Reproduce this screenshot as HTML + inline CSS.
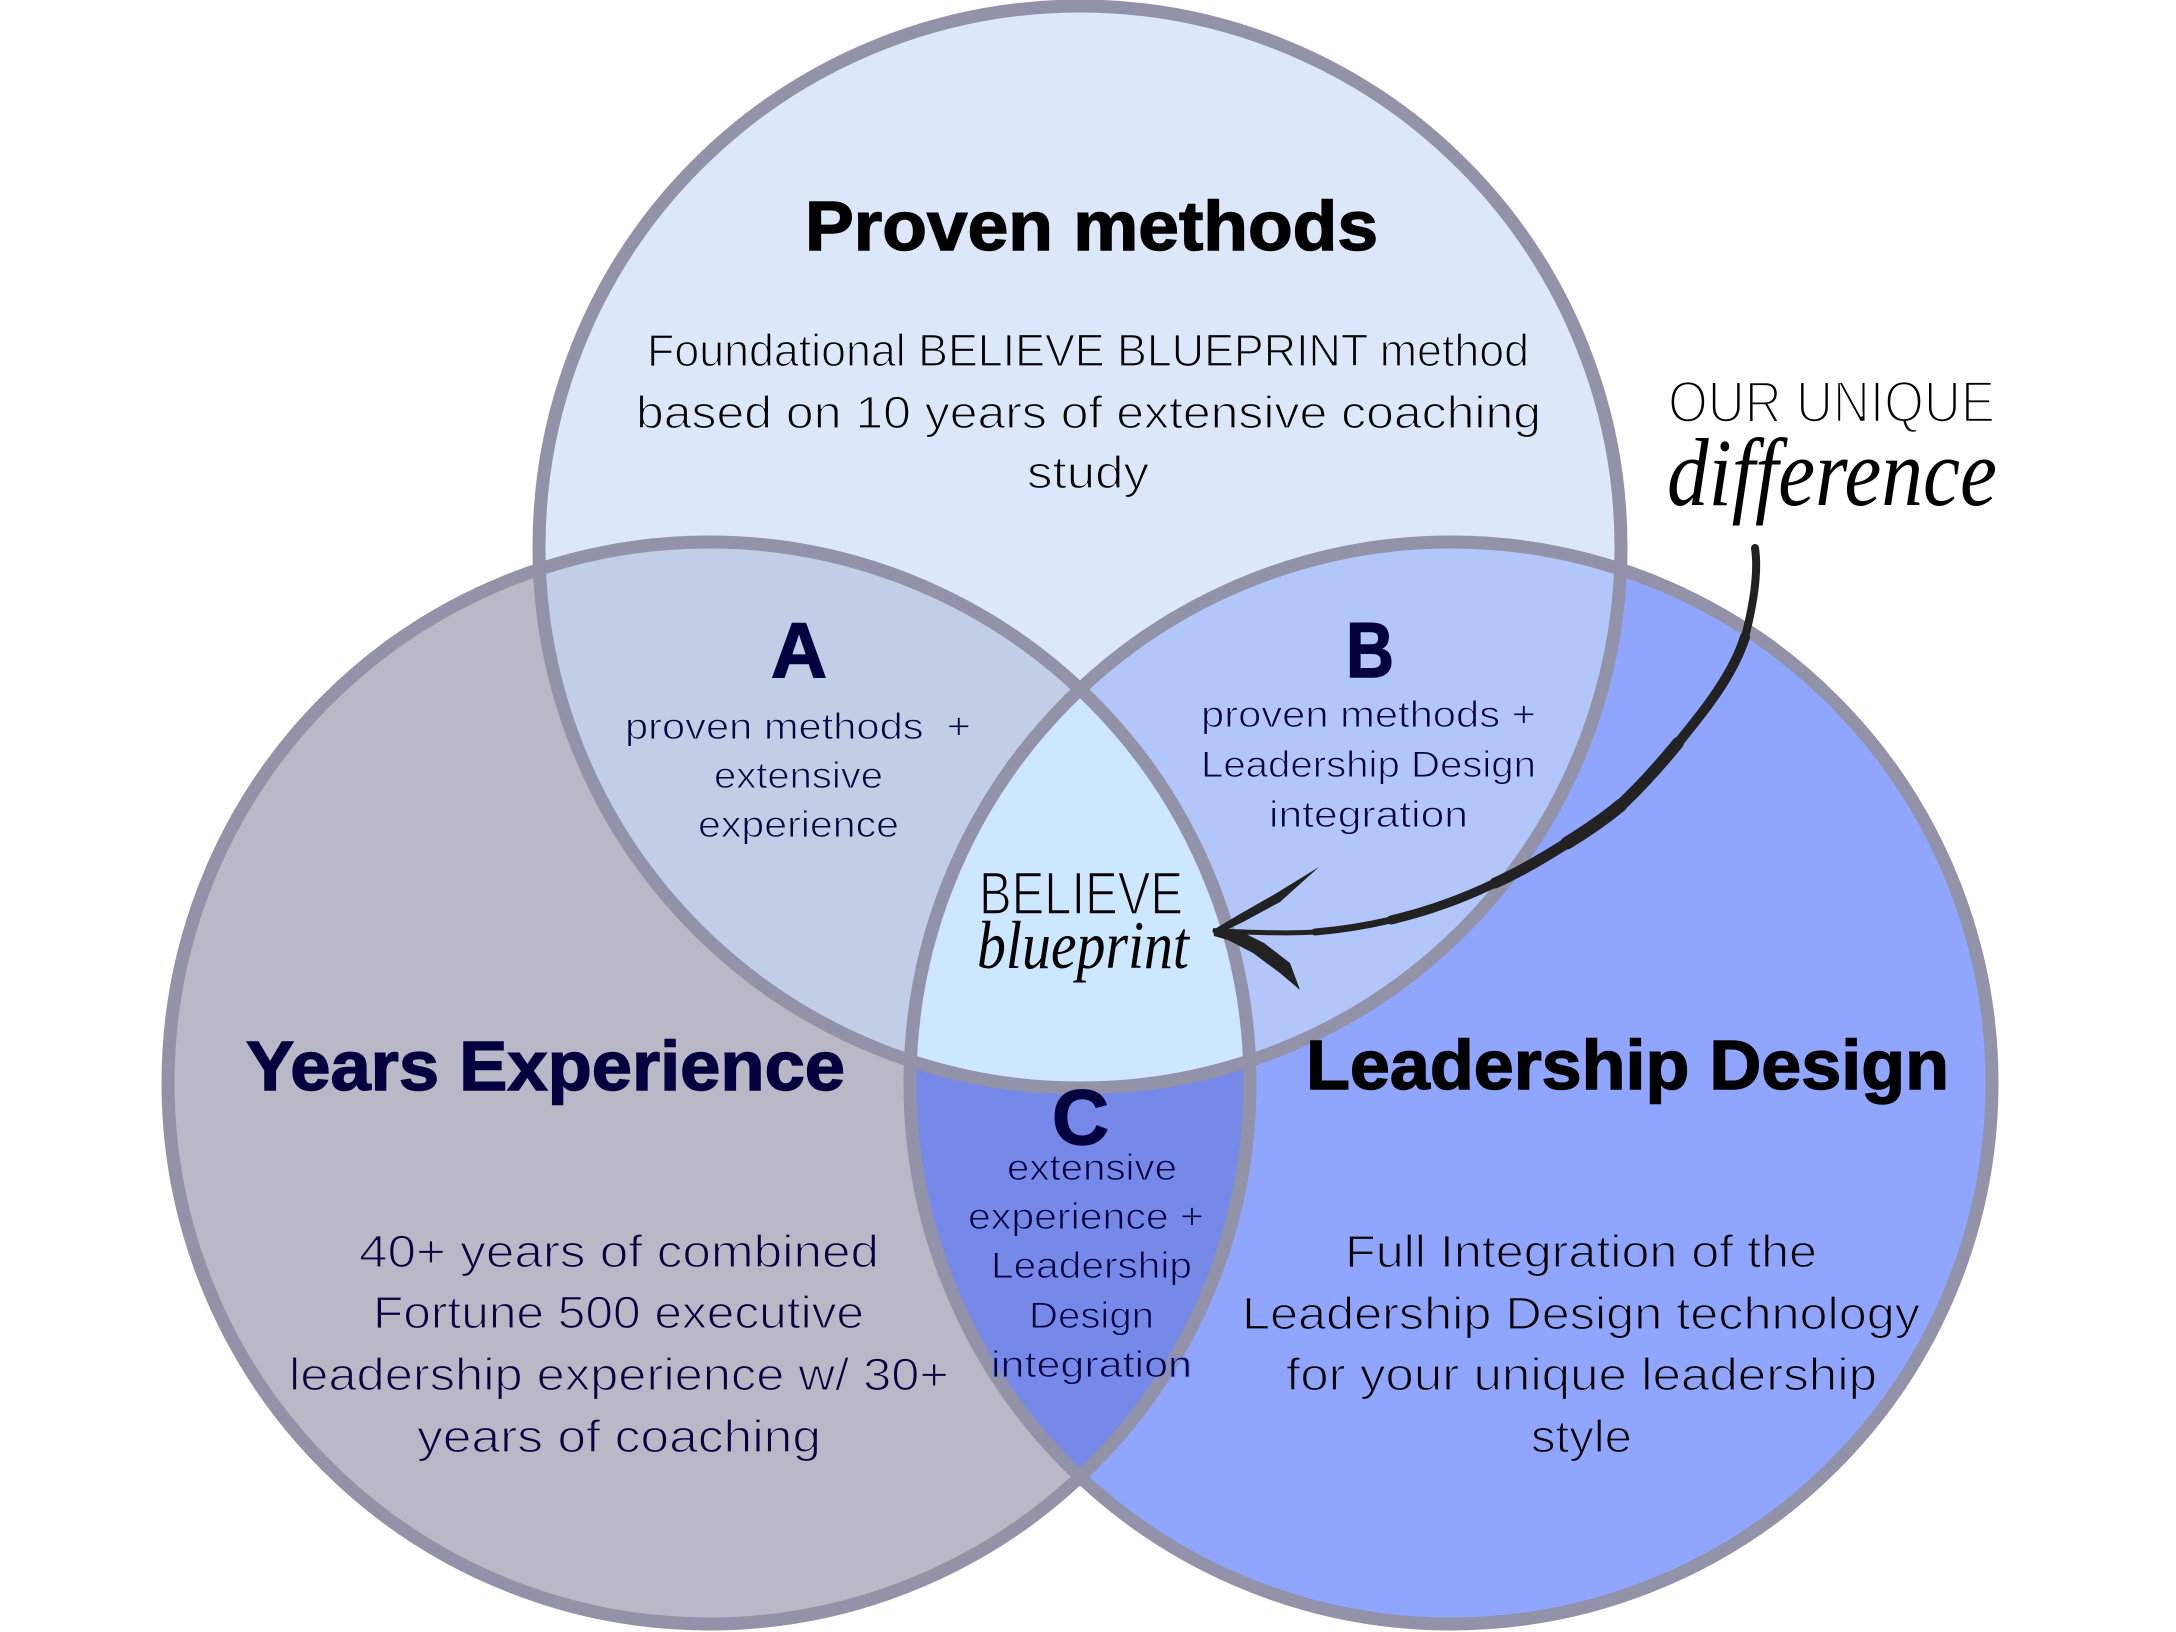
<!DOCTYPE html>
<html lang="en">
<head>
<meta charset="utf-8">
<title>Believe Blueprint Venn Diagram</title>
<style>
html,body{margin:0;padding:0;background:#fff;width:2176px;height:1632px;overflow:hidden}
svg{display:block}
text{font-family:"Liberation Sans",sans-serif}
.t{font-weight:700;font-size:70px;stroke-width:1.4px}
.b{font-size:45px;stroke-width:1.3px;paint-order:normal}
.s{font-size:37px;stroke-width:1px}
.l{font-weight:700;font-size:78px;fill:#04023f;stroke:#04023f;stroke-width:1.4px}
.sc{font-family:"Liberation Serif",serif;font-style:italic;fill:#000}
</style>
</head>
<body>
<svg width="2176" height="1632" viewBox="0 0 2176 1632" xmlns="http://www.w3.org/2000/svg">
<defs>
<clipPath id="ct"><circle cx="1080" cy="547" r="541"/></clipPath>
<clipPath id="cl"><circle cx="709" cy="1083" r="541"/></clipPath>
<clipPath id="cr"><circle cx="1451" cy="1083" r="541"/></clipPath>
</defs>
<rect width="2176" height="1632" fill="#fff"/>
<circle cx="709" cy="1083" r="541" fill="#b8b8c6"/>
<circle cx="1451" cy="1083" r="541" fill="#8fa5fe"/>
<circle cx="1080" cy="547" r="541" fill="#dce7f9"/>
<g clip-path="url(#ct)"><circle cx="709" cy="1083" r="541" fill="#c1cee6"/></g>
<g clip-path="url(#ct)"><circle cx="1451" cy="1083" r="541" fill="#b3c6f9"/></g>
<g clip-path="url(#cl)"><circle cx="1451" cy="1083" r="541" fill="#7689e9"/></g>
<g clip-path="url(#ct)"><g clip-path="url(#cl)"><circle cx="1451" cy="1083" r="541" fill="#cce7ff"/></g></g>
<g fill="none" stroke="#9292a8" stroke-width="13">
<circle cx="709" cy="1083" r="541"/>
<circle cx="1451" cy="1083" r="541"/>
<circle cx="1080" cy="547" r="541"/>
</g>

<text class="t" x="805" y="250" textLength="573" lengthAdjust="spacingAndGlyphs" fill="#000" stroke="#000">Proven methods</text>
<g fill="#000" stroke="#dce7f9">
<text class="b" x="647" y="366" textLength="882" lengthAdjust="spacingAndGlyphs">Foundational BELIEVE BLUEPRINT method</text>
<text class="b" x="636" y="428" textLength="905" lengthAdjust="spacingAndGlyphs">based on 10 years of extensive coaching</text>
<text class="b" x="1027" y="488" textLength="122" lengthAdjust="spacingAndGlyphs">study</text>
</g>

<text class="t" x="246" y="1090" textLength="599" lengthAdjust="spacingAndGlyphs" fill="#04023f" stroke="#04023f">Years Experience</text>
<g fill="#04023f" stroke="#b8b8c6">
<text class="b" x="359" y="1267" textLength="520" lengthAdjust="spacingAndGlyphs">40+ years of combined</text>
<text class="b" x="373" y="1328" textLength="491" lengthAdjust="spacingAndGlyphs">Fortune 500 executive</text>
<text class="b" x="289" y="1390" textLength="660" lengthAdjust="spacingAndGlyphs">leadership experience w/ 30+</text>
<text class="b" x="417" y="1452" textLength="404" lengthAdjust="spacingAndGlyphs">years of coaching</text>
</g>

<text class="t" x="1306" y="1089" textLength="643" lengthAdjust="spacingAndGlyphs" fill="#000" stroke="#000">Leadership Design</text>
<g fill="#000" stroke="#8fa5fe">
<text class="b" x="1345" y="1267" textLength="472" lengthAdjust="spacingAndGlyphs">Full Integration of the</text>
<text class="b" x="1242" y="1329" textLength="678" lengthAdjust="spacingAndGlyphs">Leadership Design technology</text>
<text class="b" x="1286" y="1390" textLength="591" lengthAdjust="spacingAndGlyphs">for your unique leadership</text>
<text class="b" x="1531" y="1452" textLength="101" lengthAdjust="spacingAndGlyphs">style</text>
</g>

<text class="l" x="771" y="677" textLength="56" lengthAdjust="spacingAndGlyphs">A</text>
<g fill="#04023f" stroke="#c1cee6">
<text class="s" x="625" y="739" textLength="346" lengthAdjust="spacingAndGlyphs" xml:space="preserve">proven methods  +</text>
<text class="s" x="714" y="788" textLength="169" lengthAdjust="spacingAndGlyphs">extensive</text>
<text class="s" x="698" y="837" textLength="201" lengthAdjust="spacingAndGlyphs">experience</text>
</g>

<text class="l" x="1346" y="677" textLength="48" lengthAdjust="spacingAndGlyphs">B</text>
<g fill="#04023f" stroke="#b3c6f9">
<text class="s" x="1201" y="727" textLength="335" lengthAdjust="spacingAndGlyphs">proven methods +</text>
<text class="s" x="1201" y="777" textLength="335" lengthAdjust="spacingAndGlyphs">Leadership Design</text>
<text class="s" x="1269" y="827" textLength="199" lengthAdjust="spacingAndGlyphs">integration</text>
</g>

<text class="l" x="1052" y="1144" textLength="57" lengthAdjust="spacingAndGlyphs">C</text>
<g fill="#04023f" stroke="#7689e9">
<text class="s" x="1007" y="1180" textLength="170" lengthAdjust="spacingAndGlyphs">extensive</text>
<text class="s" x="968" y="1229" textLength="236" lengthAdjust="spacingAndGlyphs">experience +</text>
<text class="s" x="991" y="1278" textLength="201" lengthAdjust="spacingAndGlyphs">Leadership</text>
<text class="s" x="1029" y="1328" textLength="125" lengthAdjust="spacingAndGlyphs">Design</text>
<text class="s" x="991" y="1377" textLength="201" lengthAdjust="spacingAndGlyphs" stroke-width=".7">integration</text>
</g>

<text x="1668" y="422" font-size="58" textLength="327" lengthAdjust="spacingAndGlyphs" fill="#000" stroke="#fff" stroke-width="2.6">OUR UNIQUE</text>
<text class="sc" x="1667" y="505" font-size="96" textLength="330" lengthAdjust="spacingAndGlyphs">difference</text>

<text x="979" y="914" font-size="60" textLength="204" lengthAdjust="spacingAndGlyphs" fill="#000" stroke="#cce7ff" stroke-width="1.6">BELIEVE</text>
<text class="sc" x="977" y="968" font-size="68" textLength="212" lengthAdjust="spacingAndGlyphs">blueprint</text>

<g fill="none" stroke="#222" stroke-linecap="round">
<path stroke-width="8" d="M1755 548C1759 575 1752 610 1745 637"/>
<path stroke-width="10" d="M1745 637C1733 675 1705 710 1678 743"/>
<path stroke-width="12" d="M1678 743C1660 765 1640 787 1621 805"/>
<path stroke-width="13" d="M1621 805C1603 820 1585 832 1567 843"/>
<path stroke-width="11" d="M1567 843C1545 857 1520 872 1495 883"/>
<path stroke-width="9" d="M1495 883C1460 900 1425 912 1391 920"/>
<path stroke-width="7" d="M1391 920C1365 926 1340 930 1315 932"/>
<path stroke-width="5" d="M1315 932C1285 934 1250 932 1215 931"/>
</g>
<polygon fill="#222" points="1213,930 1240,914 1275,894 1319,867 1280,902 1243,922 1216,935"/>
<polygon fill="#222" points="1213,928 1240,931 1264,943 1290,963 1300,990 1280,973 1253,953 1228,940 1214,936"/>
</svg>
</body>
</html>
